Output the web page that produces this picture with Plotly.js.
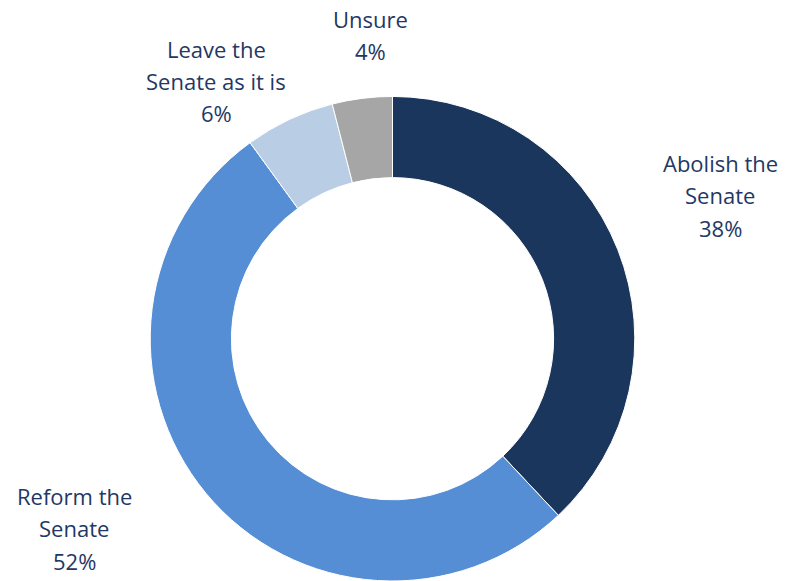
<!DOCTYPE html>
<html>
<head>
<meta charset="utf-8">
<script src="https://cdn.plot.ly/plotly-3.0.1.min.js"></script>
<style>html,body{margin:0;padding:0;background:#fff;}#chart{width:785px;height:581px;}</style>
</head>
<body>
<div id="chart"></div>
<script>
const categories = ["Abolish the Senate", "Reform the Senate", "Leave the Senate as it is", "Unsure"];
const labelLines = [["Abolish the", "Senate"], ["Reform the", "Senate"], ["Leave the", "Senate as it is"], ["Unsure"]];
const values = [38, 52, 6, 4];
const colors = ["#1B365D", "#558ED5", "#B9CDE5", "#A6A6A6"];
// label anchor centres in pixels (x, y of block centre)
const labelPos = [[720, 195], [74, 528], [216, 81], [370, 35]];

const W = 785, H = 581, lineGap = 32.5;
const annotations = [];
categories.forEach((c, i) => {
  const lines = labelLines[i].concat([values[i] + "%"]);
  const n = lines.length;
  lines.forEach((t, j) => {
    const py = labelPos[i][1] + (j - (n - 1) / 2) * lineGap;
    annotations.push({
      text: t, showarrow: false, xref: "paper", yref: "paper",
      x: labelPos[i][0] / W, y: 1 - py / H, xanchor: "center", yanchor: "middle",
      font: {family: "'Open Sans', Lato, sans-serif", size: 22, color: "#1F3864"}
    });
  });
});

const data = [{
  type: "pie",
  labels: categories,
  values: values,
  marker: {colors: colors, line: {color: "#ffffff", width: 1}},
  hole: 0.665,
  sort: false,
  direction: "clockwise",
  rotation: 0,
  textinfo: "none",
  hoverinfo: "label+percent",
  showlegend: false,
  domain: {x: [0, 1], y: [0, 0.834]}
}];

const layout = {
  width: W, height: H,
  margin: {l: 0, r: 0, t: 0, b: 0},
  paper_bgcolor: "#ffffff",
  showlegend: false,
  annotations: annotations
};

Plotly.newPlot("chart", data, layout, {displayModeBar: false, staticPlot: true});
</script>
</body>
</html>
